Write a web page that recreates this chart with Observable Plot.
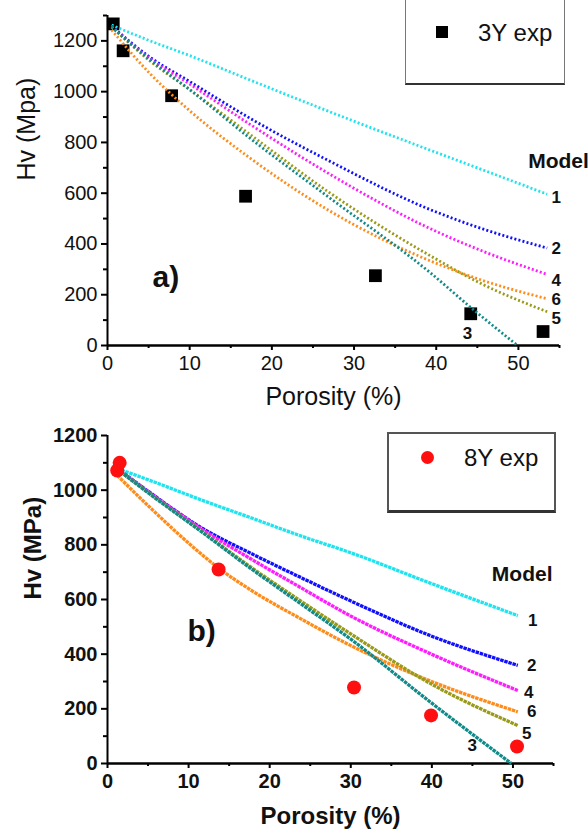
<!DOCTYPE html>
<html><head><meta charset="utf-8">
<script src="https://cdn.jsdelivr.net/npm/d3@7"></script>
<script src="https://cdn.jsdelivr.net/npm/@observablehq/plot@0.6"></script>
<style>
body{margin:0;background:#fff;font-family:"Liberation Sans",Arial,sans-serif;}
#wrap{position:relative;width:588px;height:839px;overflow:hidden;background:#fff;}
.panel{position:absolute;left:0;}
.legend{position:absolute;box-sizing:border-box;background:#fff;color:#111;}
.legend .sym{position:absolute;}
.legend .txt{position:absolute;font-size:24px;line-height:24px;}
</style></head><body><div id="wrap"></div>
<script>
// ---------- data: panel a) 3Y ----------
const expA_x = [0.7, 1.9, 7.8, 16.8, 32.6, 44.2, 53.0];
const expA_y = [1267, 1161, 984, 588, 275, 125, 55];
const gridA = [0.5, 5.2, 10, 17.4, 27.1, 39.3, 45.4, 53.5];
const a1 = [1262, 1200, 1142, 1045, 920, 769, 695, 596];
const a2 = [1258, 1135, 1040, 894, 725, 535, 462, 384];
const a4 = [1255, 1130, 1030, 870, 674, 460, 375, 280];
const a5 = [1255, 1120, 1008, 830, 600, 353, 245, 133];
const a6 = [1243, 1070, 925, 737, 529, 333, 259, 184];
const a3x = [0.5, 5.2, 10, 17.4, 27.1, 39.3, 44.2, 49.9];
const a3 = [1255, 1125, 1008, 815, 580, 286, 150, 0];

// ---------- data: panel b) 8Y ----------
const expB_x = [1.5, 1.2, 13.7, 30.4, 39.9, 50.5];
const expB_y = [1100, 1072, 710, 278, 176, 62];
const gridB = [1.2, 5.3, 11.5, 17.6, 23.8, 29.9, 39.8, 50.6];
const b1 = [1079, 1035, 965, 900, 833, 772, 660, 541];
const b2 = [1079, 990, 864, 770, 681, 596, 468, 359];
const b4 = [1077, 988, 860, 750, 644, 541, 402, 267];
const b5 = [1077, 985, 852, 720, 595, 476, 293, 139];
const b6x = [1.2, 5.3, 11.5, 13.7, 17.6, 23.8, 29.9, 39.8, 50.6];
const b6 = [1054, 935, 768, 715, 636, 530, 433, 302, 189];
const b3x = [1.2, 5.3, 11.5, 17.6, 23.8, 29.9, 39.8, 49.8];
const b3 = [1077, 984, 850, 715, 585, 457, 225, 0];

const modelColors = {"1": "#1fe3ee", "2": "#1010ff", "3": "#128a8a", "4": "#ff1cff", "5": "#9a9a1a", "6": "#ff8c1a"};
const xTicks = [0, 10, 20, 30, 40, 50];
const xMinor = [5, 15, 25, 35, 45, 55];

const FONT = "Liberation Sans, Arial, Helvetica, sans-serif";
const fmt = d => String(d);

function makePanel(cfg) {
  const marks = [];
  marks.push(Plot.ruleY([0], {x1: 0, x2: 55, stroke: "#000", strokeWidth: 2.6}));
  marks.push(Plot.ruleX([0], {y1: 0, y2: cfg.yMax, stroke: "#000", strokeWidth: 2}));
  const yMajor = d3.range(0, cfg.yMax + 1, 200);
  const yMinor = d3.range(100, cfg.yMax + 1, 200);
  marks.push(Plot.axisY({ticks: yMajor, tickFormat: fmt, tickSize: 6, tickPadding: 4, fontSize: cfg.tickFont, fontWeight: cfg.weight, label: null, stroke: "#000", strokeWidth: 2, fill: "#111"}));
  marks.push(Plot.axisY({ticks: yMinor, tickSize: 4, tickFormat: () => "", label: null, stroke: "#000", strokeWidth: 2}));
  marks.push(Plot.axisX({ticks: xTicks, tickFormat: fmt, tickSize: 5, tickPadding: 5, fontSize: cfg.tickFont, fontWeight: cfg.weight, label: null, stroke: "#000", strokeWidth: 2, fill: "#111"}));
  marks.push(Plot.axisX({ticks: xMinor, tickSize: 3, tickFormat: () => "", label: null, stroke: "#000", strokeWidth: 2}));
  marks.push(Plot.text([cfg.yTitle], {frameAnchor: "left", dx: cfg.yTitleDx, rotate: -90, text: d => d, fontSize: cfg.titleFont, fontWeight: cfg.weight, fill: "#111"}));
  marks.push(Plot.text([cfg.xTitle], {frameAnchor: "bottom", dy: cfg.xTitleDy, text: d => d, fontSize: cfg.titleFont, fontWeight: cfg.weight, fill: "#111"}));
  marks.push(Plot.text([cfg.tag], {frameAnchor: "bottom-left", dx: cfg.tagDx, dy: cfg.tagDy, text: d => d, fontSize: 30, fontWeight: "bold", fill: "#111"}));

  const expRows = cfg.expX.map((x, i) => ({x, y: cfg.expY[i]}));
  if (!cfg.expOnTop) marks.push(Plot.dot(expRows, {x: "x", y: "y", symbol: cfg.expSymbol, r: cfg.expR, fill: cfg.expColor, stroke: "none"}));
  for (const s of cfg.series) {
    const pts = s.xs.map((x, i) => ({x, y: s.ys[i]}));
    marks.push(Plot.line(pts, {x: "x", y: "y", stroke: modelColors[s.name], strokeWidth: cfg.lw, strokeDasharray: cfg.dash, strokeLinecap: "butt", curve: "monotone-x"}));
  }
  if (cfg.expOnTop) marks.push(Plot.dot(expRows, {x: "x", y: "y", symbol: cfg.expSymbol, r: cfg.expR, fill: cfg.expColor, stroke: "none"}));
  for (const s of cfg.series) {
    const n = s.xs.length - 1;
    const end = {x: s.xs[n], y: s.ys[n]};
    const off = cfg.labelOff[s.name];
    marks.push(Plot.text([end], {x: "x", y: "y", text: () => s.name, dx: off[0], dy: off[1], fontSize: 17, fontWeight: "bold", fill: "#111"}));
    if (s.name === "1") {
      marks.push(Plot.text([end], {x: "x", y: "y", text: () => "Model", dx: cfg.modelOff[0], dy: cfg.modelOff[1], textAnchor: "start", fontSize: 21, fontWeight: "bold", fill: "#111"}));
    }
  }
  return Plot.plot({
    width: 588, height: cfg.height,
    marginLeft: 107, marginRight: cfg.marginRight, marginTop: cfg.marginTop, marginBottom: cfg.marginBottom,
    x: {domain: [0, 55]},
    y: {domain: [0, cfg.yMax]},
    style: {fontFamily: FONT, background: "transparent", color: "#111", overflow: "visible"},
    marks
  });
}

const wrap = document.getElementById("wrap");

const panelA = makePanel({
  height: 420, marginTop: 15, marginBottom: 75, marginRight: 29, yMax: 1300,
  tickFont: 20, titleFont: 25, weight: "normal",
  yTitle: "Hv (Mpa)", yTitleDx: -81, xTitle: "Porosity (%)", xTitleDy: 59,
  tag: "a)", tagDx: 45, tagDy: -59,
  expX: expA_x, expY: expA_y, expSymbol: "square", expR: 7.2, expColor: "#000", expOnTop: false,
  lw: 2.8, dash: "2 2.2",
  series: [
    {name: "1", xs: gridA, ys: a1}, {name: "2", xs: gridA, ys: a2}, {name: "4", xs: gridA, ys: a4},
    {name: "6", xs: gridA, ys: a6}, {name: "5", xs: gridA, ys: a5}, {name: "3", xs: a3x, ys: a3}
  ],
  labelOff: {"1": [9, 3], "2": [9, 1], "4": [9, 6], "6": [9, 1], "5": [9, 7], "3": [-50, -12]},
  modelOff: [-19, -33]
});
panelA.classList.add("panel");
panelA.style.top = "0px";
wrap.appendChild(panelA);

const panelB = makePanel({
  height: 419, marginTop: 15, marginBottom: 76, marginRight: 35, yMax: 1200,
  tickFont: 20, titleFont: 24, weight: "bold",
  yTitle: "Hv (MPa)", yTitleDx: -74, xTitle: "Porosity (%)", xTitleDy: 60,
  tag: "b)", tagDx: 80, tagDy: -123,
  expX: expB_x, expY: expB_y, expSymbol: "circle", expR: 7, expColor: "#ff1010", expOnTop: true,
  lw: 3.3, dash: "3.5 0.8",
  series: [
    {name: "1", xs: gridB, ys: b1}, {name: "2", xs: gridB, ys: b2}, {name: "4", xs: gridB, ys: b4},
    {name: "6", xs: b6x, ys: b6}, {name: "5", xs: gridB, ys: b5}, {name: "3", xs: b3x, ys: b3}
  ],
  labelOff: {"1": [15, 5], "2": [14, 0], "4": [11, 2], "6": [14, 0], "5": [9, 8], "3": [-39, -18]},
  modelOff: [-26, -41]
});
panelB.classList.add("panel");
panelB.style.top = "420px";
wrap.appendChild(panelB);

function legend(box, symHtml, text) {
  const d = document.createElement("div");
  d.className = "legend";
  Object.assign(d.style, box);
  d.innerHTML = symHtml + `<div class="txt" style="left:${text.left}px;top:${text.top}px">${text.s}</div>`;
  wrap.appendChild(d);
}
legend({left: "405px", top: "-4px", width: "160px", height: "89px", borderLeft: "1.5px solid #777", borderRight: "1.5px solid #777", borderBottom: "2.5px solid #333"},
  `<div class="sym" style="left:30px;top:30px;width:12px;height:12px;background:#000"></div>`,
  {left: 72, top: 25, s: "3Y exp"});
legend({left: "387px", top: "432px", width: "169px", height: "81px", border: "2px solid #555", borderBottom: "3px solid #333"},
  `<div class="sym" style="left:32px;top:17px;width:13px;height:13px;border-radius:50%;background:#ff1010"></div>`,
  {left: 75, top: 12, s: "8Y exp"});
</script></body></html>
